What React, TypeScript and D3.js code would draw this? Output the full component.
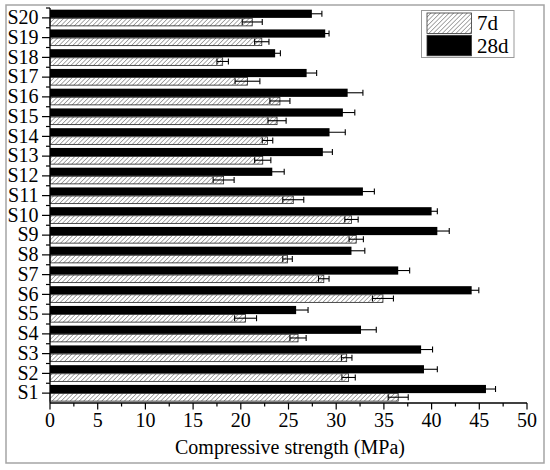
import React, { useEffect, useRef } from "react";
import * as d3 from "d3";

const samples = ["S1", "S2", "S3", "S4", "S5", "S6", "S7", "S8", "S9", "S10", "S11", "S12", "S13", "S14", "S15", "S16", "S17", "S18", "S19", "S20"];
const strength7d = [36.5, 31.3, 31.1, 26.0, 20.5, 34.9, 28.7, 24.9, 32.1, 31.6, 25.5, 18.2, 22.3, 22.8, 23.8, 24.1, 20.7, 18.1, 22.2, 21.2];
const error7d = [1.05, 0.7, 0.55, 0.85, 1.15, 1.1, 0.55, 0.5, 0.75, 0.7, 1.1, 1.1, 0.85, 0.55, 0.95, 1.05, 1.3, 0.6, 0.75, 1.05];
const strength28d = [45.7, 39.2, 38.9, 32.6, 25.8, 44.2, 36.5, 31.6, 40.6, 40.0, 32.8, 23.3, 28.6, 29.3, 30.7, 31.2, 26.9, 23.6, 28.85, 27.45];
const error28d = [1.0, 1.4, 1.2, 1.6, 1.25, 0.75, 1.2, 1.4, 1.25, 0.6, 1.2, 1.25, 1.0, 1.65, 1.25, 1.6, 1.05, 0.55, 0.4, 1.05];
const xTicks = [0, 5, 10, 15, 20, 25, 30, 35, 40, 45, 50];
const seriesNames = ["7d", "28d"];

const FONT = "Liberation Serif";

const App: React.FC = () => {
  const svgRef = useRef<SVGSVGElement | null>(null);

  useEffect(() => {
    if (!svgRef.current) return;
    const svg = d3.select(svgRef.current);
    svg.selectAll("*").remove();
    svg.attr("font-family", FONT);

    const left = 50;
    const right = 527;
    const bottom = 403;
    const top = 8;

    const x = d3.scaleLinear().domain([0, 50]).range([left, right]);
    const y = d3.scaleBand().domain(samples).range([bottom, top]).padding(0);
    const barH = 8.2;

    // hatch pattern for 7d
    const defs = svg.append("defs");
    const pat = defs
      .append("pattern")
      .attr("id", "hatch")
      .attr("patternUnits", "userSpaceOnUse")
      .attr("width", 3.2)
      .attr("height", 3.2)
      .attr("patternTransform", "rotate(45)");
    pat.append("rect").attr("width", 3.2).attr("height", 3.2).attr("fill", "#fff");
    pat
      .append("line")
      .attr("x1", 0)
      .attr("y1", 0)
      .attr("x2", 0)
      .attr("y2", 3.2)
      .attr("stroke", "#555")
      .attr("stroke-width", 1);

    // outer frame
    svg
      .append("rect")
      .attr("x", 6)
      .attr("y", 5)
      .attr("width", 538)
      .attr("height", 458)
      .attr("fill", "none")
      .attr("stroke", "#a5a5a5")
      .attr("stroke-width", 1.5);

    const rows = samples.map((s, i) => ({
      s,
      v7: strength7d[i],
      e7: error7d[i],
      v28: strength28d[i],
      e28: error28d[i],
    }));
    const cy = (s: string) => y(s)! + y.bandwidth() / 2;

    const g = svg.append("g");

    // 28d bars (upper)
    g.selectAll(".b28")
      .data(rows)
      .enter()
      .append("rect")
      .attr("x", x(0))
      .attr("y", (d) => cy(d.s) - barH)
      .attr("width", (d) => x(d.v28) - x(0))
      .attr("height", barH)
      .attr("fill", "#000");

    // 7d bars (lower)
    g.selectAll(".b7")
      .data(rows)
      .enter()
      .append("rect")
      .attr("x", x(0))
      .attr("y", (d) => cy(d.s) + 0.4)
      .attr("width", (d) => x(d.v7) - x(0))
      .attr("height", barH - 0.6)
      .attr("fill", "url(#hatch)")
      .attr("stroke", "#222")
      .attr("stroke-width", 0.8);

    // error bars
    const errs = rows.flatMap((d) => [
      { v: d.v28, e: d.e28, yc: cy(d.s) - barH / 2 },
      { v: d.v7, e: d.e7, yc: cy(d.s) + barH / 2 },
    ]);
    const eg = g.append("g").attr("stroke", "#000").attr("stroke-width", 1.1);
    errs.forEach((d) => {
      eg.append("line")
        .attr("x1", x(d.v - d.e))
        .attr("x2", x(d.v + d.e))
        .attr("y1", d.yc)
        .attr("y2", d.yc);
      [d.v - d.e, d.v + d.e].forEach((t) => {
        eg.append("line")
          .attr("x1", x(t))
          .attr("x2", x(t))
          .attr("y1", d.yc - 3)
          .attr("y2", d.yc + 3);
      });
    });

    // x axis
    const xa = svg.append("g").attr("stroke", "#000");
    xa.append("line").attr("x1", left).attr("x2", right).attr("y1", bottom).attr("y2", bottom).attr("stroke-width", 1.3);
    d3.range(0, 50.01, 2.5).forEach((t) => {
      const major = t % 5 === 0;
      xa.append("line")
        .attr("x1", x(t))
        .attr("x2", x(t))
        .attr("y1", bottom)
        .attr("y2", bottom + (major ? 6.5 : 3.5))
        .attr("stroke-width", 1.2);
    });
    svg
      .append("g")
      .selectAll("text")
      .data(xTicks)
      .enter()
      .append("text")
      .attr("x", (d) => x(d))
      .attr("y", 427)
      .attr("text-anchor", "middle")
      .attr("font-size", 20)
      .text((d) => d);

    // y axis
    const ya = svg.append("g").attr("stroke", "#000");
    ya.append("line").attr("x1", left).attr("x2", left).attr("y1", top).attr("y2", bottom).attr("stroke-width", 1.3);
    samples.forEach((s) => {
      ya.append("line")
        .attr("x1", left - 8)
        .attr("x2", left)
        .attr("y1", cy(s))
        .attr("y2", cy(s))
        .attr("stroke-width", 1.2);
      ya.append("line")
        .attr("x1", left - 4)
        .attr("x2", left)
        .attr("y1", y(s)!)
        .attr("y2", y(s)!)
        .attr("stroke-width", 1.2);
    });
    svg
      .append("g")
      .selectAll("text")
      .data(samples)
      .enter()
      .append("text")
      .attr("x", 38.5)
      .attr("y", (d) => cy(d))
      .attr("dy", "0.31em")
      .attr("text-anchor", "end")
      .attr("font-size", 20)
      .text((d) => d);

    // axis title
    svg
      .append("text")
      .attr("x", 290)
      .attr("y", 454)
      .attr("text-anchor", "middle")
      .attr("font-size", 20)
      .text("Compressive strength (MPa)");

    // legend
    const lg = svg.append("g");
    lg.append("rect")
      .attr("x", 421.5)
      .attr("y", 10.5)
      .attr("width", 92.5)
      .attr("height", 47)
      .attr("fill", "#fff")
      .attr("stroke", "#999")
      .attr("stroke-width", 1);
    seriesNames.forEach((name, i) => {
      lg.append("rect")
        .attr("x", 427)
        .attr("y", 13 + i * 22.3)
        .attr("width", 44.5)
        .attr("height", 20.5)
        .attr("fill", i === 0 ? "url(#hatch)" : "#000")
        .attr("stroke", "#333")
        .attr("stroke-width", 0.8);
      lg.append("text")
        .attr("x", 477)
        .attr("y", 30 + i * 23)
        .attr("font-size", 21)
        .text(name);
    });
  }, []);

  return (
    <svg
      ref={svgRef}
      width="550"
      height="470"
      style={{ position: "absolute", left: 0, top: 0, background: "#fff" }}
    ></svg>
  );
};

export default App;
